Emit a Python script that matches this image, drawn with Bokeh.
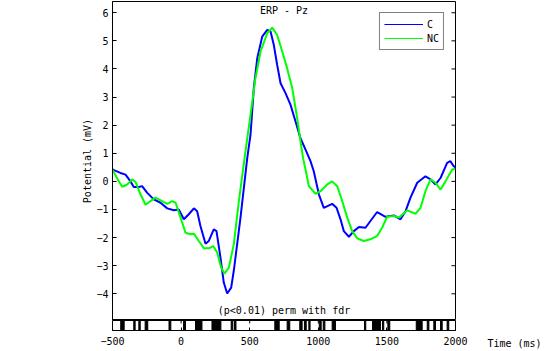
import numpy as np
from bokeh.plotting import figure
from bokeh.models import Range1d, FixedTicker, Label, Legend, LegendItem
from bokeh.layouts import column, row
from bokeh.embed import file_html
from bokeh.resources import INLINE

# ---------------- data ----------------
c_t = [-500, -490, -442, -405, -369, -345, -308, -284, -247, -199, -150, -101, -53, -17,
       20, 56, 93, 117, 141, 178, 202, 238, 258, 287, 311, 336, 365, 384, 433, 482,
       506, 530, 555, 591, 628, 652, 676, 700, 725, 761, 797, 834, 870, 907, 943, 967,
       1004, 1040, 1101, 1133, 1162, 1186, 1223, 1259, 1296, 1344, 1380, 1429, 1490,
       1551, 1599, 1636, 1672, 1721, 1781, 1818, 1854, 1891, 1939, 1962, 1987, 2000]
c_v = [0.43, 0.40, 0.30, 0.24, 0.0, -0.2, -0.2, -0.17, -0.41, -0.64, -0.76, -0.96, -1.03, -1.0,
       -1.35, -1.17, -0.96, -1.06, -1.59, -2.22, -2.12, -1.71, -1.77, -2.71, -3.6, -3.99, -3.78, -3.18, -1.29, 0.83,
       1.66, 3.32, 4.38, 5.15, 5.39, 5.33, 4.85, 4.15, 3.49, 3.14, 2.73, 2.13, 1.54, 1.13, 0.72, 0.36,
       -0.46, -0.94, -0.80, -0.94, -1.35, -1.77, -1.97, -1.77, -1.62, -1.65, -1.41, -1.09, -1.26,
       -1.21, -1.35, -1.06, -0.58, -0.05, 0.18, 0.07, -0.11, 0.12, 0.66, 0.72, 0.54, 0.50]

nc_t = [-500, -490, -460, -429, -393, -356, -332, -296, -259, -223, -187, -138, -101, -65, -40,
        -4, 32, 69, 93, 129, 166, 202, 234, 263, 292, 316, 348, 384, 421, 469,
        506, 542, 579, 628, 664, 700, 737, 773, 810, 846, 870, 890, 907, 931, 980, 1016,
        1065, 1101, 1138, 1174, 1211, 1247, 1284, 1332, 1380, 1429, 1465, 1502, 1551,
        1587, 1648, 1709, 1745, 1781, 1818, 1854, 1891, 1927, 1976, 2000]
nc_v = [0.40, 0.33, 0.05, -0.19, -0.11, 0.07, -0.02, -0.46, -0.83, -0.70, -0.58, -0.70, -0.80, -0.70, -0.76,
        -1.29, -1.83, -1.88, -1.86, -2.12, -2.38, -2.38, -2.30, -2.53, -3.07, -3.28, -3.07, -2.24, -0.70, 1.07,
        2.37, 3.67, 4.62, 5.27, 5.47, 5.21, 4.62, 4.02, 3.32, 2.25, 1.43, 0.80, 0.42, -0.17, -0.44, -0.35,
        -0.11, 0.0, -0.17, -0.70, -1.29, -1.77, -2.03, -2.12, -2.06, -1.94, -1.65, -1.26, -1.23,
        -1.29, -1.03, -1.15, -0.94, -0.35, 0.07, -0.05, -0.29, 0.0, 0.42, 0.45]

sig_start = [-440, -345, -308, -262, -88, 18, 105, 225, 365, 389, 683, 773, 865, 899, 931,
             1007, 1036, 1101, 1337, 1395, 1468, 1507, 1714, 1794, 1842, 1891, 1939]
sig_end = [-415, -335, -298, -243, -75, 32, 152, 290, 377, 400, 715, 792, 882, 912, 940,
           1021, 1048, 1125, 1346, 1453, 1477, 1521, 1757, 1806, 1854, 1903, 1951]

x_ticks = [-500, 0, 500, 1000, 1500, 2000]
y_ticks = [-4, -3, -2, -1, 0, 1, 2, 3, 4, 5, 6]
series_names = ["C", "NC"]
series_colors = ["#0000ff", "#00ff00"]
x_lim = (-500, 2000)
y_lim = (-4.95, 6.4)
strip_lim = (0, 1)

FONT = "DejaVu Sans Mono"
FS = "10px"

# ---------------- main plot ----------------
p = figure(width=550, height=320, x_range=Range1d(*x_lim), y_range=Range1d(*y_lim),
           output_backend="svg", toolbar_location=None, x_axis_type=None,
           min_border_left=112, min_border_right=95, min_border_top=1, min_border_bottom=0)
p.grid.visible = False
p.outline_line_color = "black"
p.outline_line_alpha = 1.0
p.background_fill_color = "white"
p.border_fill_color = "white"

ya = p.yaxis[0]
ya.ticker = FixedTicker(ticks=y_ticks)
ya.major_tick_in = 4
ya.major_tick_out = 0
ya.minor_tick_in = 0
ya.minor_tick_out = 0
ya.major_label_standoff = 4
ya.major_label_text_font = FONT
ya.major_label_text_font_size = FS
ya.major_label_text_color = "black"
ya.axis_label = "Potential (mV)"
ya.axis_label_text_font = FONT
ya.axis_label_text_font_size = FS
ya.axis_label_text_font_style = "normal"
ya.axis_label_text_color = "black"
ya.axis_label_standoff = 0
ya.axis_line_color = "black"

# mirrored inward ticks on the right edge
p.ray(x=[x_lim[1]] * len(y_ticks), y=y_ticks, length=4, length_units="screen",
      angle=np.pi, line_color="black", line_width=1)

rc = p.line(c_t, c_v, line_color=series_colors[0], line_width=2)
rn = p.line(nc_t, nc_v, line_color=series_colors[1], line_width=2)

# thin legend swatches (renderers that draw nothing on the plot)
lc = p.line(x=[x_lim[0]], y=[np.nan], line_color=series_colors[0], line_width=1)
ln = p.line(x=[x_lim[0]], y=[np.nan], line_color=series_colors[1], line_width=1)

legend = Legend(items=[LegendItem(label=series_names[0], renderers=[lc]),
                       LegendItem(label=series_names[1], renderers=[ln])],
                location="top_right")
legend.label_text_font = FONT
legend.label_text_font_size = FS
legend.label_text_color = "black"
legend.glyph_width = 39
legend.glyph_height = 14
legend.label_height = 14
legend.label_width = 12
legend.spacing = 0
legend.padding = 4
legend.margin = 11
legend.label_standoff = 4
legend.border_line_color = "black"
legend.border_line_width = 1
legend.background_fill_alpha = 1.0
p.add_layout(legend)

p.add_layout(Label(x=(x_lim[0] + x_lim[1]) / 2, y=y_lim[1], y_offset=-9, text="ERP - Pz",
                   text_align="center", text_baseline="middle", text_font=FONT,
                   text_font_size=FS, text_color="black"))
p.add_layout(Label(x=(x_lim[0] + x_lim[1]) / 2, y=y_lim[0], y_offset=10,
                   text="(p<0.01) perm with fdr",
                   text_align="center", text_baseline="middle", text_font=FONT,
                   text_font_size=FS, text_color="black"))

# ---------------- significance strip ----------------
s = figure(width=478, height=31, x_range=p.x_range, y_range=Range1d(*strip_lim),
           output_backend="svg", toolbar_location=None, y_axis_type=None,
           min_border_left=112, min_border_right=23, min_border_top=0, min_border_bottom=18)
s.grid.visible = False
s.outline_line_color = "black"
s.outline_line_alpha = 1.0
s.background_fill_color = "white"
s.border_fill_color = "white"
xa = s.xaxis[0]
xa.ticker = FixedTicker(ticks=x_ticks)
xa.major_tick_in = 3
xa.major_tick_out = 0
xa.minor_tick_in = 0
xa.minor_tick_out = 0
xa.major_label_standoff = 6
xa.major_label_text_font = FONT
xa.major_label_text_font_size = FS
xa.major_label_text_color = "black"
xa.axis_line_color = "black"

# mirrored inward ticks on the top edge of the strip
s.ray(x=x_ticks, y=[strip_lim[1]] * len(x_ticks), length=3, length_units="screen",
      angle=-np.pi / 2, line_color="black", line_width=1)

s.quad(left=sig_start, right=sig_end, bottom=strip_lim[0], top=strip_lim[1],
       fill_color="black", line_color="black")

# ---------------- x-axis title, to the right of the strip ----------------
t = figure(width=72, height=31, x_range=Range1d(0, 1), y_range=Range1d(0, 1),
           output_backend="svg", toolbar_location=None, y_axis_type=None,
           min_border_left=0, min_border_right=0, min_border_top=0, min_border_bottom=18)
t.grid.visible = False
t.outline_line_color = None
t.background_fill_color = "white"
t.border_fill_color = "white"
ta = t.xaxis[0]
ta.ticker = FixedTicker(ticks=[])
ta.major_tick_in = 0
ta.major_tick_out = 0
ta.minor_tick_in = 0
ta.minor_tick_out = 0
ta.major_label_standoff = 0
ta.axis_line_color = None
ta.axis_label = "Time (ms)"
ta.axis_label_text_font = FONT
ta.axis_label_text_font_size = FS
ta.axis_label_text_font_style = "normal"
ta.axis_label_text_color = "black"
ta.axis_label_standoff = 7

layout = column(p, row(s, t, spacing=0), spacing=0)
open("out.html", "w").write(file_html(layout, INLINE))
